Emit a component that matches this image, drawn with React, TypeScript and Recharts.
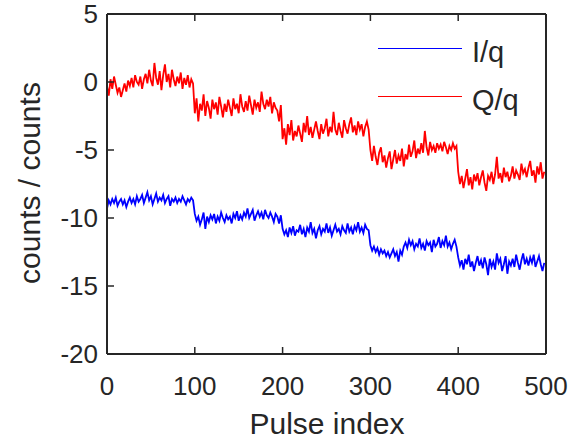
import React from 'react';
import { LineChart, Line, XAxis, YAxis, Legend, Label } from 'recharts';

// sampled every 2 pulses, 50 samples per 100-pulse block
const pulseStep = 2;

const qBlock1 = [
  -0.3, -1.0, 0.2, -0.5, 0.4, -0.2, -0.8, -0.4, -1.1, -0.6,
  -0.1, -0.7, 0.1, -0.3, 0.3, -0.4, 0.5, 0.0, -0.2, 0.4,
  -0.5, 0.2, 0.6, -0.1, 0.9, 0.1, -0.3, 1.4, 0.3, -0.2,
  0.8, -0.6, 0.5, 1.3, 0.0, 0.6, -0.4, 0.9, 0.2, -0.3,
  0.4, -0.1, 0.7, -0.5, 0.3, -0.2, 0.5, -0.4, 0.2, -0.1,
];
const qBlock2 = [
  -2.3, -1.2, -2.9, -1.6, -2.1, -0.9, -2.5, -1.4, -1.9, -2.7,
  -1.3, -2.0, -1.5, -2.4, -1.1, -1.8, -2.6, -1.6, -2.2, -1.3,
  -1.9, -2.5, -1.2, -2.0, -1.6, -2.3, -0.9, -1.8, -2.2, -1.4,
  -2.1, -1.0, -1.7, -2.4, -1.3, -1.9, -1.5, -2.2, -0.7, -1.6,
  -2.0, -1.3, -1.8, -1.1, -2.3, -1.5, -1.9, -2.1, -2.9, -1.7,
];
const qBlock3 = [
  -4.2, -3.4, -4.6, -3.1, -3.9, -2.8, -4.3, -3.6, -4.0, -3.2,
  -3.8, -4.4, -3.0, -3.7, -2.5, -3.9, -3.3, -4.1, -3.5, -2.9,
  -3.6, -4.2, -3.1, -3.8, -3.4, -2.7, -4.0, -3.3, -3.7, -2.2,
  -3.5, -3.9, -3.0, -3.6, -4.1, -2.8, -3.4, -3.8, -3.1, -2.6,
  -3.7, -3.2, -3.9, -2.9, -3.5, -3.1, -4.0, -3.3, -2.9, -3.5,
];
const qBlock4 = [
  -5.0, -5.8, -4.7, -5.5, -6.1, -5.2, -4.8, -5.9, -5.4, -6.3,
  -5.6, -5.1, -6.4, -5.7, -5.0, -6.0, -5.4, -5.8, -4.9, -6.2,
  -5.3, -5.7, -4.6, -5.5, -5.1, -4.3, -5.6, -4.9, -5.3, -4.5,
  -5.2, -3.6, -4.8, -5.4, -4.4, -5.0, -4.7, -5.2, -4.5, -4.9,
  -4.6, -5.1, -4.4, -4.8, -5.3, -4.7, -5.0, -4.5, -4.9, -4.7,
];
const qBlock5 = [
  -6.6, -7.5, -6.9, -7.8, -7.1, -6.4, -7.6, -7.0, -7.9, -6.8,
  -7.3, -6.7, -7.6, -7.0, -6.5, -7.4, -8.0, -6.9, -7.2, -6.6,
  -7.5, -6.8, -5.5, -7.1, -6.7, -7.4, -6.3, -7.0, -6.6, -7.3,
  -6.9, -6.2, -7.1, -6.5, -6.8, -7.2, -6.0, -6.7, -6.4, -7.0,
  -6.3, -5.8, -6.9, -6.5, -7.4, -6.2, -6.8, -5.9, -7.1, -6.6,
];

const iBlock1 = [
  -9.3, -8.7, -9.0, -8.6, -8.9, -8.5, -9.1, -8.8, -8.6, -9.0,
  -8.7, -9.2, -8.8, -8.5, -8.9, -8.6, -9.0, -8.4, -8.8, -8.6,
  -8.3, -8.9, -8.5, -8.1, -8.7, -8.4, -9.0, -8.6, -8.2, -8.8,
  -8.5, -8.7, -8.3, -8.9, -8.6, -8.4, -9.1, -8.6, -8.8, -8.5,
  -8.9, -8.6, -8.8, -8.4, -8.7, -9.0, -8.6, -8.8, -8.5, -8.7,
];
const iBlock2 = [
  -9.7, -10.2, -9.9, -10.5, -10.1, -9.6, -10.8, -9.9, -10.3, -9.8,
  -10.1, -9.7, -10.4, -9.9, -10.2, -9.6, -10.0, -10.3, -9.8, -10.1,
  -9.9, -10.4, -9.7, -10.0, -9.5, -10.2, -9.8, -10.1, -9.6, -9.9,
  -9.3, -10.0, -9.7, -9.4, -10.2, -9.8, -9.5, -9.9, -9.6, -10.1,
  -9.4, -9.8, -10.0, -9.6, -9.9, -10.3, -9.7, -9.9, -10.4, -9.8,
];
const iBlock3 = [
  -10.8, -11.2, -10.9, -11.4, -10.7, -11.1, -10.6, -11.3, -10.9, -11.0,
  -10.5, -11.2, -10.8, -11.4, -10.7, -11.0, -10.3, -11.1, -10.8, -11.5,
  -10.9, -10.6, -11.2, -10.8, -11.0, -10.4, -11.1, -10.7, -11.3, -10.9,
  -10.5, -11.0, -10.8, -11.2, -10.6, -10.9, -11.1, -10.4, -11.0, -10.7,
  -11.2, -10.6, -10.9, -10.3, -11.0, -10.7, -11.1, -10.5, -10.8, -10.9,
];
const iBlock4 = [
  -12.0, -12.4, -12.1, -12.5, -12.2, -12.7, -12.3, -12.6, -12.4, -12.8,
  -12.5, -12.9, -12.6, -12.3, -12.8, -12.5, -13.2, -12.4, -12.7, -12.1,
  -11.8, -12.2, -11.6, -12.0, -11.7, -12.3, -11.9, -12.1, -11.5, -12.2,
  -11.9, -12.4, -11.7, -12.0, -11.8, -12.5, -11.6, -12.1, -11.9, -11.4,
  -12.2, -11.7, -12.0, -11.3, -12.1, -11.8, -12.3, -11.9, -11.6, -12.1,
];
const iBlock5 = [
  -12.9, -13.5, -13.1, -13.8, -13.0, -13.4, -12.7, -13.6, -13.2, -13.9,
  -13.3, -12.8, -13.5, -13.1, -13.7, -12.9, -13.4, -14.2, -13.0, -13.6,
  -13.2, -13.8, -12.6, -13.3, -13.0, -13.9, -13.4, -12.8, -14.1, -13.2,
  -13.5, -13.0, -13.6, -12.7, -13.3, -13.8, -13.1, -12.6, -13.4, -13.0,
  -13.5, -12.9, -13.3, -12.7, -13.6, -13.2, -12.8, -13.4, -13.9, -13.3,
];

const xTicks = [0, 100, 200, 300, 400, 500];
const yTicks = [5, 0, -5, -10, -15, -20];

const qValues = [...qBlock1, ...qBlock2, ...qBlock3, ...qBlock4, ...qBlock5];
const iValues = [...iBlock1, ...iBlock2, ...iBlock3, ...iBlock4, ...iBlock5];
const rows = iValues.map((v, k) => ({ pulse: k * pulseStep, iq: v, qq: qValues[k] }));

const FONT = '"Liberation Sans", Arial, Helvetica, sans-serif';
const INK = '#262626';
const TICK = 7;

const LeftTick = (p: any) => (
  <g>
    <line x1={p.x} x2={p.x + TICK} y1={p.y} y2={p.y} stroke={INK} strokeWidth={1.5} />
    <text x={p.x - 9} y={p.y} textAnchor="end" dominantBaseline="central" fontSize={26} fill={INK} fontFamily={FONT}>
      {p.payload.value}
    </text>
  </g>
);
const RightTick = (p: any) => (
  <line x1={p.x - TICK} x2={p.x} y1={p.y} y2={p.y} stroke={INK} strokeWidth={1.5} />
);
const BottomTick = (p: any) => (
  <g>
    <line x1={p.x} x2={p.x} y1={p.y - TICK} y2={p.y} stroke={INK} strokeWidth={1.5} />
    <text x={p.x} y={p.y + 41} textAnchor="middle" fontSize={26} fill={INK} fontFamily={FONT}>
      {p.payload.value}
    </text>
  </g>
);
const TopTick = (p: any) => (
  <line x1={p.x} x2={p.x} y1={p.y} y2={p.y + TICK} stroke={INK} strokeWidth={1.5} />
);

const LegendBox = (props: any) => (
  <div style={{ fontFamily: FONT, color: INK }}>
    {(props.payload || []).map((e: any) => (
      <div key={e.value} style={{ display: 'flex', alignItems: 'center', height: 48 }}>
        <div style={{ width: 84, height: 0, borderTop: `1.5px solid ${e.color}`, marginRight: 10, marginTop: -8 }} />
        <span style={{ fontSize: 29 }}>{e.value}</span>
      </div>
    ))}
  </div>
);

export default function App() {
  return (
    <div style={{ position: 'absolute', left: 0, top: 0, width: 572, height: 441, background: '#fff' }}>
      <LineChart width={572} height={441} data={rows} margin={{ top: 0, right: 0, bottom: 0, left: 0 }}>
        <XAxis xAxisId="b" dataKey="pulse" type="number" domain={[0, 500]} ticks={xTicks} orientation="bottom"
          height={87} tickSize={0} tickMargin={0} tickLine={false} tick={BottomTick} interval={0}
          axisLine={{ stroke: INK, strokeWidth: 2 }}>
          <Label content={() => (
            <text x={327} y={434} textAnchor="middle" fontSize={30} fill={INK} fontFamily={FONT}>Pulse index</text>
          )} />
        </XAxis>
        <XAxis xAxisId="t" dataKey="pulse" type="number" domain={[0, 500]} ticks={xTicks} orientation="top"
          height={14} tickSize={0} tickMargin={0} tickLine={false} tick={TopTick} interval={0}
          axisLine={{ stroke: INK, strokeWidth: 2 }} />
        <YAxis yAxisId="l" type="number" domain={[-20, 5]} ticks={yTicks} orientation="left" width={107}
          tickSize={0} tickMargin={0} tickLine={false} tick={LeftTick} interval={0}
          axisLine={{ stroke: INK, strokeWidth: 2 }}>
          <Label content={() => (
            <text x={0} y={0} transform="translate(40 183) rotate(-90)" textAnchor="middle" fontSize={30} fill={INK} fontFamily={FONT}>
              counts / counts
            </text>
          )} />
        </YAxis>
        <YAxis yAxisId="r" type="number" domain={[-20, 5]} ticks={yTicks} orientation="right" width={26}
          tickSize={0} tickMargin={0} tickLine={false} tick={RightTick} interval={0}
          axisLine={{ stroke: INK, strokeWidth: 2 }} />
        <Legend content={LegendBox} layout="vertical" verticalAlign="middle" align="center"
          wrapperStyle={{ position: 'absolute', left: 378, top: 28, width: 170 }} />
        <Line xAxisId="b" yAxisId="l" dataKey="iq" name="I/q" stroke="#0000ff" strokeWidth={1.8}
          dot={false} isAnimationActive={false} />
        <Line xAxisId="b" yAxisId="l" dataKey="qq" name="Q/q" stroke="#ff0000" strokeWidth={1.8}
          dot={false} isAnimationActive={false} />
      </LineChart>
    </div>
  );
}
